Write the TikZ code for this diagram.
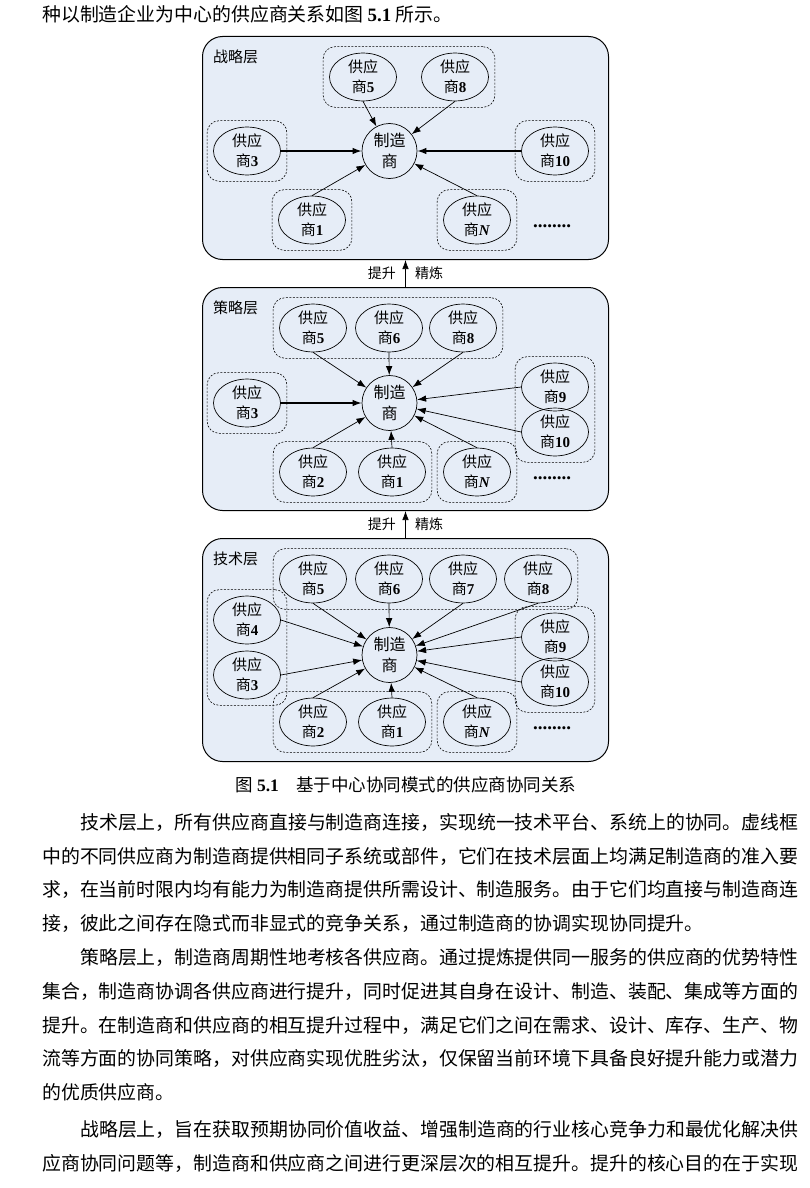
\documentclass[tikz,border=0pt]{standalone}
\usepackage{fontspec}
\setmainfont{Liberation Serif}
\newfontfamily\cjk{Noto Sans CJK SC}
\usetikzlibrary{shapes.geometric,arrows.meta,fit,positioning}
\definecolor{panelblue}{RGB}{230,237,247}
\newcommand{\sn}[1]{{\rmfamily\bfseries #1}}
\newcommand{\gy}[1]{供应\\商\sn{#1}}
\tikzset{
  panel/.style={draw,line width=1pt,rounded corners=20pt,fill=panelblue,minimum width=406pt,minimum height=223pt,anchor=north west},
  lay/.style={font=\cjk\fontsize{15}{17}\selectfont,anchor=west,inner sep=0pt},
  gys/.style={draw,ellipse,line width=0.7pt,minimum width=67pt,minimum height=47pt,inner sep=0pt,align=center,font=\cjk\fontsize{15}{20}\selectfont},
  hub/.style={draw,circle,line width=0.7pt,minimum size=55pt,inner sep=0pt,align=center,font=\cjk\fontsize{16}{21}\selectfont},
  grp/.style={draw,dash pattern=on 2pt off 1.5pt,line width=0.6pt,rounded corners=12pt,inner sep=6pt},
  feed/.style={-{Latex[length=9pt,width=6.5pt]},line width=0.7pt},
  dots/.style={font=\bfseries\fontsize{19}{20}\selectfont},
  body/.style={anchor=west,inner sep=0pt,font=\cjk\fontsize{18.9}{22}\selectfont},
  lift/.style={font=\cjk\fontsize{14}{16}\selectfont}
}
\begin{document}
\begin{tikzpicture}[x=1pt,y=-1pt,line join=round]
\useasboundingbox (0,0) rectangle (810,1188);
\node[body] (t0) at (42,14) {种以制造企业为中心的供应商关系如图 \sn{5.1} 所示。};
% strategy layer
\begin{scope}[shift={(0,36)}]
\node[panel] (pa) at (202,0) {};
\node[lay] (la) at (213,21) {战略层};
\node[hub] (am) at (389.5,115) {制造\\商};
\foreach \n/\x/\y/\t in {5/363/41/5,8/455/41/8,3/247/115/3,10/555/115/10,1/312/184/1,N/477/184/\textit{N}}
  \node[gys] (a\n) at (\x,\y) {\gy{\t}};
\node[grp,fit=(a5)(a8)] (ga1) {};
\node[grp,fit=(a3)] (ga2) {};
\node[grp,fit=(a10)] (ga3) {};
\node[grp,fit=(a1)] (ga4) {};
\node[grp,fit=(aN)] (ga5) {};
\node[dots] (ad) at (552,190) {........};
\foreach \n/\s in {5/south,8/south,1/north,N/north}
  \draw[feed] (a\n.\s) -- (am);
\draw[feed,line width=1.2pt] (a3) -- (am);
\draw[feed,line width=1.2pt] (a10) -- (am);
\end{scope}
% tactical layer
\begin{scope}[shift={(0,287)}]
\node[panel] (pb) at (202,0) {};
\node[lay] (lb) at (213,21) {策略层};
\node[hub] (bm) at (389.5,116) {制造\\商};
\foreach \n/\x/\y/\t in {5/313/41/5,6/389/41/6,8/463/41/8,3/247/116/3,9/555/100/9,10/555/145/10,2/313/185/2,1/392/185/1,N/477/185/\textit{N}}
  \node[gys] (b\n) at (\x,\y) {\gy{\t}};
\node[grp,fit=(b5)(b8)] (gb1) {};
\node[grp,fit=(b3)] (gb2) {};
\node[grp,fit=(b9)(b10)] (gb3) {};
\node[grp,fit=(b2)(b1)] (gb4) {};
\node[grp,fit=(bN)] (gb5) {};
\node[dots] (bd) at (552,191) {........};
\foreach \n/\s in {5/south,6/south,8/south,2/north,1/north,N/north,9/west,10/west}
  \draw[feed] (b\n.\s) -- (bm);
\draw[feed,line width=1.2pt] (b3) -- (bm);
\end{scope}
% technical layer
\begin{scope}[shift={(0,538)}]
\node[panel] (pc) at (202,0) {};
\node[lay] (lc) at (213,21) {技术层};
\node[hub] (cm) at (389.5,117) {制造\\商};
\foreach \n/\x/\y/\t in {5/313/41/5,6/389/41/6,7/463/41/7,8/538/41/8,4/247/82/4,3/247/137/3,9/555/99/9,10/555/144/10,2/313/184/2,1/392/184/1,N/477/184/\textit{N}}
  \node[gys] (c\n) at (\x,\y) {\gy{\t}};
\node[grp,fit=(c5)(c8)] (gc1) {};
\node[grp,fit=(c4)(c3)] (gc2) {};
\node[grp,fit=(c9)(c10)] (gc3) {};
\node[grp,fit=(c2)(c1)] (gc4) {};
\node[grp,fit=(cN)] (gc5) {};
\node[dots] (cd) at (552,190) {........};
\foreach \n/\s in {5/south,6/south,7/south,8/south,2/north,1/north,N/north,9/west,10/west,4/east,3/east}
  \draw[feed] (c\n.\s) -- (cm);
\end{scope}
% lifting between layers
\draw[feed] (pb.north) -- (pa.south) node[lift,midway,left=6pt] (u1) {提升} node[lift,midway,right=6pt] (v1) {精炼};
\draw[feed] (pc.north) -- (pb.south) node[lift,midway,left=6pt] (u2) {提升} node[lift,midway,right=6pt] (v2) {精炼};
\node[body,anchor=center,font=\cjk\fontsize{17.5}{20}\selectfont] (cap) at (406,785) {图 \sn{5.1}\quad 基于中心协同模式的供应商协同关系};
\foreach \x/\y/\t in {80/822/技术层上，所有供应商直接与制造商连接，实现统一技术平台、系统上的协同。虚线框,
  42/856/中的不同供应商为制造商提供相同子系统或部件，它们在技术层面上均满足制造商的准入要,
  42/889/求，在当前时限内均有能力为制造商提供所需设计、制造服务。由于它们均直接与制造商连,
  42/923/接，彼此之间存在隐式而非显式的竞争关系，通过制造商的协调实现协同提升。,
  80/957/策略层上，制造商周期性地考核各供应商。通过提炼提供同一服务的供应商的优势特性,
  42/991/集合，制造商协调各供应商进行提升，同时促进其自身在设计、制造、装配、集成等方面的,
  42/1025/提升。在制造商和供应商的相互提升过程中，满足它们之间在需求、设计、库存、生产、物,
  42/1058/流等方面的协同策略，对供应商实现优胜劣汰，仅保留当前环境下具备良好提升能力或潜力,
  42/1092/的优质供应商。,
  80/1130/战略层上，旨在获取预期协同价值收益、增强制造商的行业核心竞争力和最优化解决供,
  42/1163/应商协同问题等，制造商和供应商之间进行更深层次的相互提升。提升的核心目的在于实现}
  \node[body] (p\y) at (\x,\y) {\t};
\end{tikzpicture}
\end{document}
